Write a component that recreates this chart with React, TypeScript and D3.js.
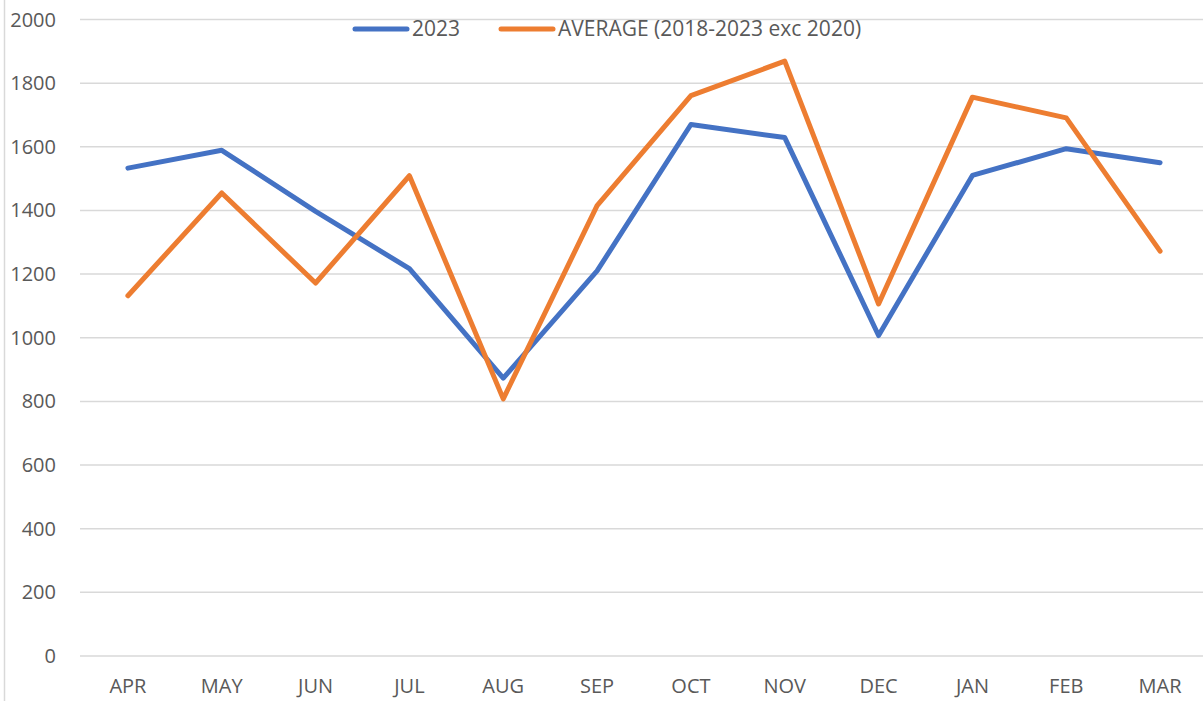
import React from 'react';
import * as d3 from 'd3';

const months = ['APR', 'MAY', 'JUN', 'JUL', 'AUG', 'SEP', 'OCT', 'NOV', 'DEC', 'JAN', 'FEB', 'MAR'];
const values2023 = [1533, 1589, 1397, 1217, 873, 1210, 1670, 1629, 1007, 1510, 1594, 1550];
const valuesAverage = [1132, 1455, 1172, 1509, 808, 1415, 1761, 1869, 1106, 1756, 1691, 1272];
const yTicks = [0, 200, 400, 600, 800, 1000, 1200, 1400, 1600, 1800, 2000];
const seriesNames = ['2023', 'AVERAGE (2018-2023 exc 2020)'];

const W = 1203;
const H = 701;
const FONT = '"Open Sans", sans-serif';
const TEXT = '#595959';

export default function App() {
  const x = d3.scaleBand<string>().domain(months).range([81, 1207]);
  const y = d3.scaleLinear().domain([0, 2000]).range([656, 19.5]);

  const line = d3.line<number>()
    .x((d, i) => x(months[i])! + x.bandwidth() / 2)
    .y(d => y(d));

  // legend keys sit at fixed spots above the plot
  const series = [
    { name: seriesNames[0], values: values2023, color: '#4472C4', lx: 355 },
    { name: seriesNames[1], values: valuesAverage, color: '#ED7D31', lx: 501 },
  ];

  return (
    <>
      <style>{'body{margin:0}'}</style>
      <svg width={W} height={H} style={{ display: 'block', fontFamily: FONT }}>
        <rect width={W} height={H} fill="#fff" />
        <line x1={4.5} x2={4.5} y1={0} y2={H} stroke="#d9d9d9" strokeWidth={1.5} />
        {yTicks.map(t => (
          <g key={t}>
            <line x1={80} x2={W} y1={y(t)} y2={y(t)} stroke="#d9d9d9" strokeWidth={1.5} />
            <text x={56} y={y(t)} dy="0.35em" textAnchor="end" fontSize={20} fill={TEXT}>{t}</text>
          </g>
        ))}
        {months.map(m => (
          <text key={m} x={x(m)! + x.bandwidth() / 2} y={686} dy="0.35em" textAnchor="middle" fontSize={20} fill={TEXT}>{m}</text>
        ))}
        {series.map(s => (
          <path key={s.name} d={line(s.values)!} fill="none" stroke={s.color} strokeWidth={5} strokeLinejoin="round" strokeLinecap="round" />
        ))}
        {series.map(s => (
          <g key={s.name}>
            <line x1={s.lx} x2={s.lx + 52} y1={29} y2={29} stroke={s.color} strokeWidth={5} strokeLinecap="round" />
            <text x={s.lx + 57} y={29} dy="0.35em" fontSize={21} fill={TEXT}>{s.name}</text>
          </g>
        ))}
      </svg>
    </>
  );
}
